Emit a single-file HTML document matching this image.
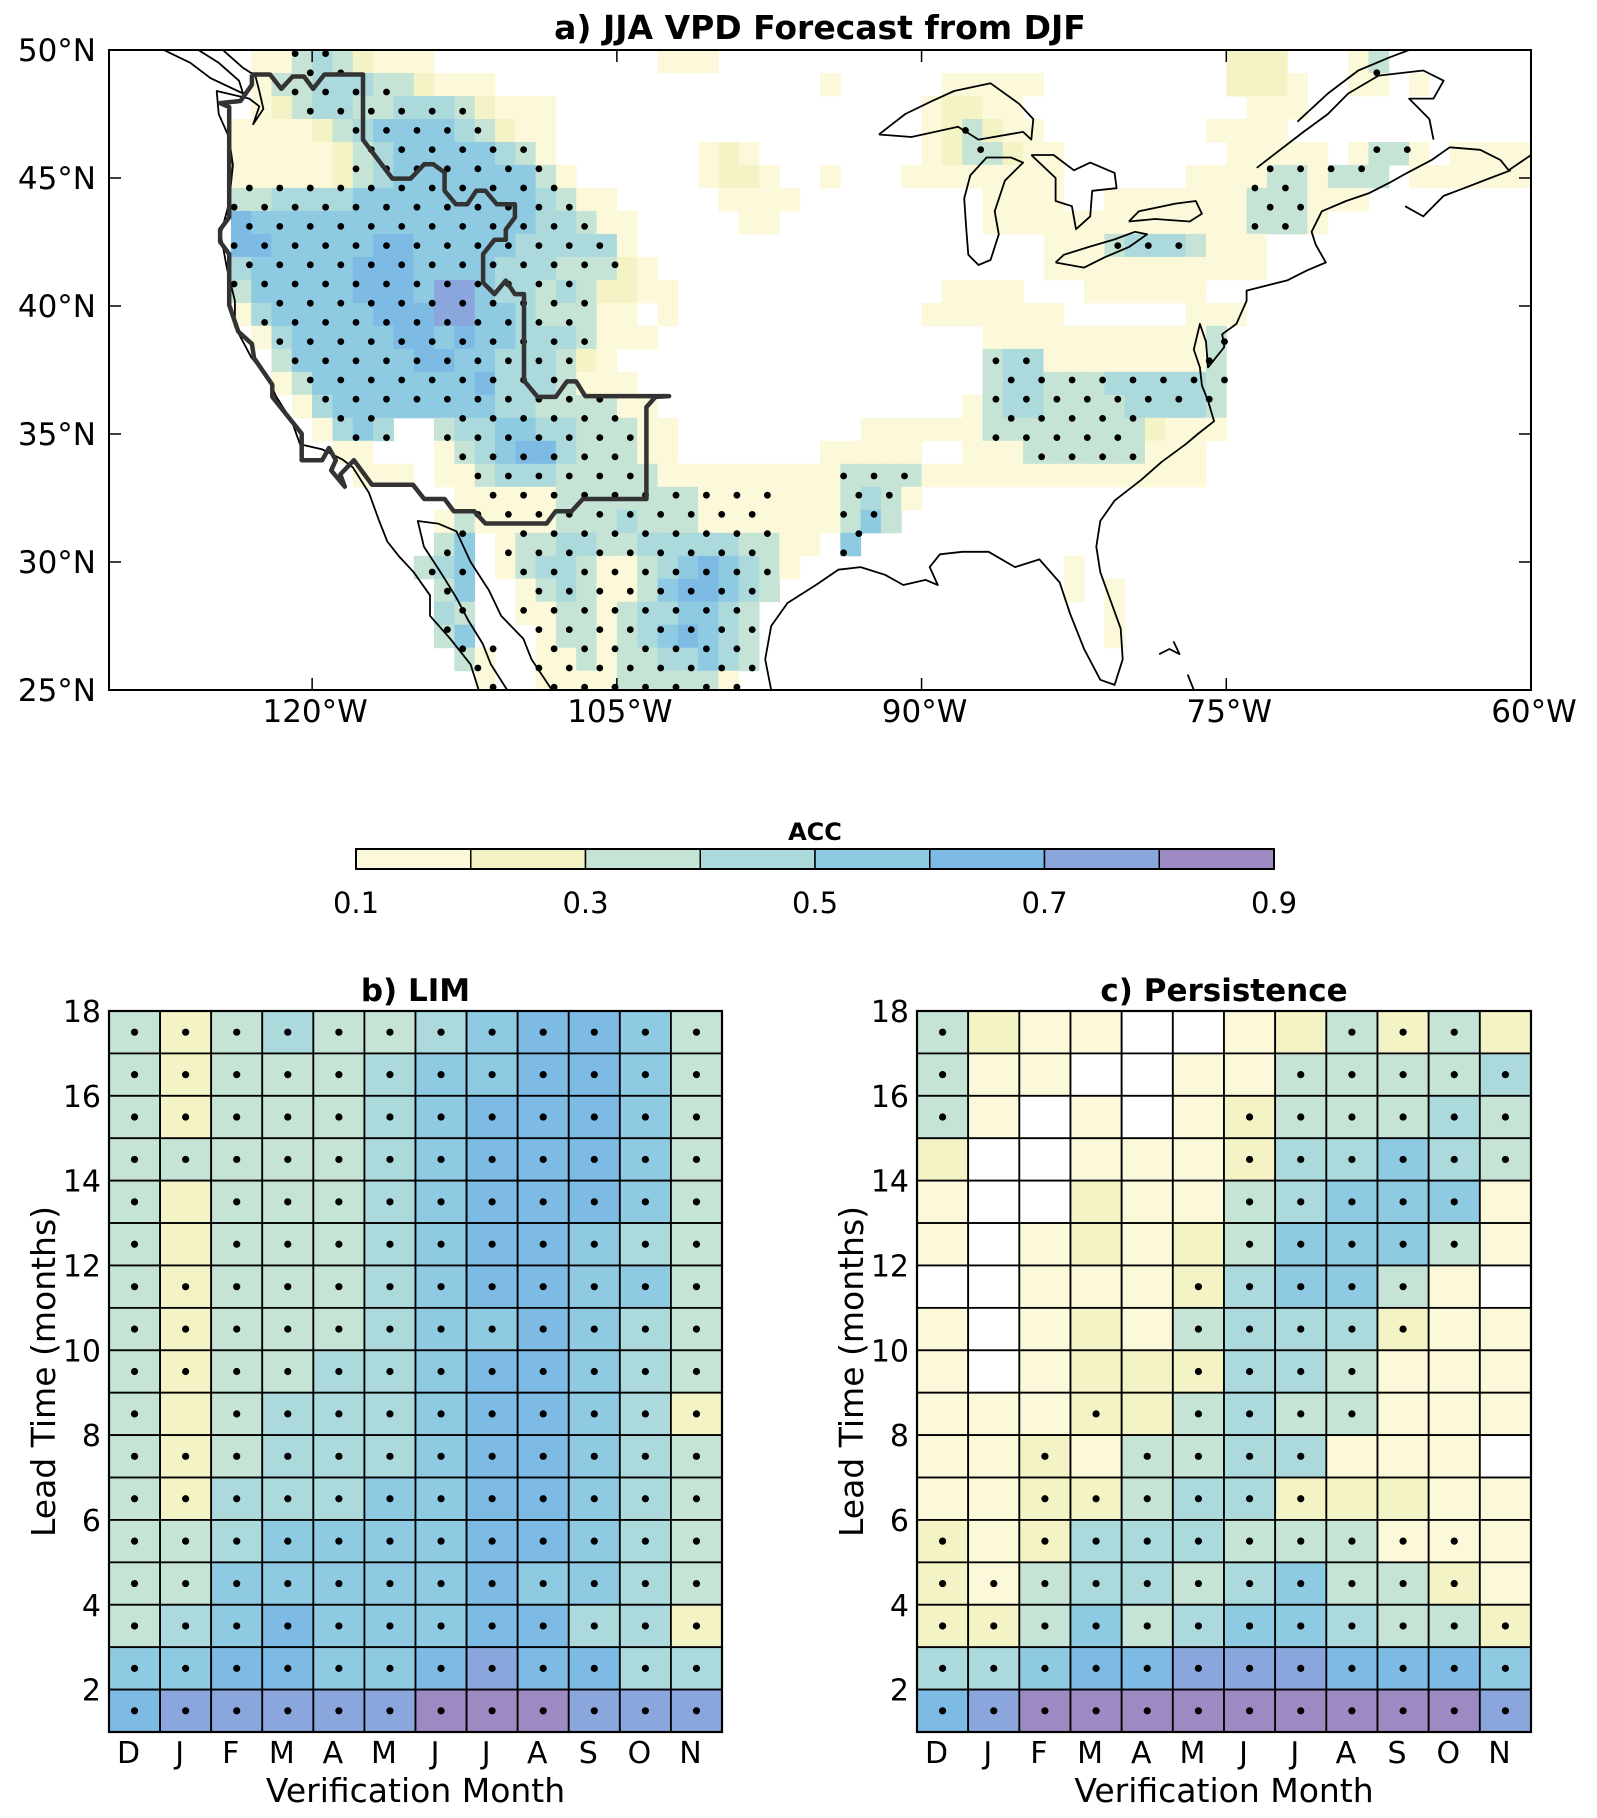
<!DOCTYPE html>
<html><head><meta charset="utf-8"><style>
body{margin:0;background:#fff}
svg{display:block;font-family:"DejaVu Sans","Liberation Sans",sans-serif}
</style></head><body>
<svg id="fig" width="1597" height="1818" viewBox="0 0 1597 1818" xmlns="http://www.w3.org/2000/svg">
<rect x="0" y="0" width="1597" height="1818" fill="#fff"/>
<g id="mapg"></g>
<g id="cbar"></g>
<g id="hb"></g>
<g id="hc"></g>
</svg>
<script>
// ===== Data =====
const binEdges = [0.1,0.2,0.3,0.4,0.5,0.6,0.7,0.8,0.9];
const binColors = ["#fcf9da","#f4f3c5","#c5e4d5","#abd9dc","#8ecbe3","#7dbbe5","#8aa6dc","#9d8ac2"];
const cbarTicks = [0.1,0.3,0.5,0.7,0.9];
const months = ["D","J","F","M","A","M","J","J","A","S","O","N"];
const leadTicks = [2,4,6,8,10,12,14,16,18];
// rows: lead 17 (top) ... lead 1 (bottom)
const leads = [17,16,15,14,13,12,11,10,9,8,7,6,5,4,3,2,1];
const limAcc = [
[.35,.25,.35,.45,.35,.35,.45,.55,.65,.65,.55,.35],
[.35,.25,.35,.35,.35,.45,.55,.55,.65,.65,.55,.35],
[.35,.25,.35,.35,.35,.45,.55,.65,.65,.65,.55,.35],
[.35,.35,.35,.35,.35,.45,.55,.65,.65,.65,.55,.35],
[.35,.25,.35,.35,.35,.45,.55,.65,.65,.65,.55,.35],
[.35,.25,.35,.35,.35,.45,.55,.65,.65,.55,.45,.35],
[.35,.25,.35,.35,.35,.45,.55,.65,.65,.55,.55,.35],
[.35,.25,.35,.35,.35,.45,.55,.55,.65,.55,.45,.35],
[.35,.25,.35,.35,.45,.45,.55,.65,.65,.55,.45,.35],
[.35,.25,.35,.45,.45,.45,.55,.65,.65,.55,.45,.25],
[.35,.25,.35,.45,.45,.45,.55,.65,.65,.55,.45,.35],
[.35,.25,.45,.45,.45,.55,.55,.65,.65,.55,.45,.35],
[.35,.35,.45,.55,.55,.55,.55,.65,.65,.55,.45,.35],
[.35,.35,.55,.55,.55,.55,.55,.65,.55,.55,.45,.35],
[.35,.45,.55,.65,.55,.55,.55,.65,.65,.45,.45,.25],
[.55,.55,.65,.65,.55,.55,.65,.75,.65,.65,.45,.45],
[.65,.75,.75,.75,.75,.75,.85,.85,.85,.75,.75,.75]];
const limSig = [
[1,1,1,1,1,1,1,1,1,1,1,1],[1,1,1,1,1,1,1,1,1,1,1,1],[1,1,1,1,1,1,1,1,1,1,1,1],
[1,1,1,1,1,1,1,1,1,1,1,1],[1,0,1,1,1,1,1,1,1,1,1,1],[1,0,1,1,1,1,1,1,1,1,1,1],
[1,1,1,1,1,1,1,1,1,1,1,1],[1,1,1,1,1,1,1,1,1,1,1,1],[1,1,1,1,1,1,1,1,1,1,1,1],
[1,0,1,1,1,1,1,1,1,1,1,1],[1,1,1,1,1,1,1,1,1,1,1,1],[1,1,1,1,1,1,1,1,1,1,1,1],
[1,1,1,1,1,1,1,1,1,1,1,1],[1,1,1,1,1,1,1,1,1,1,1,1],[1,1,1,1,1,1,1,1,1,1,1,1],
[1,1,1,1,1,1,1,1,1,1,1,1],[1,1,1,1,1,1,1,1,1,1,1,1]];
const perAcc = [
[.35,.25,.15,.15,.05,.05,.15,.25,.35,.25,.35,.25],
[.35,.15,.15,.05,.05,.15,.15,.35,.35,.35,.35,.45],
[.35,.15,.05,.15,.05,.15,.25,.35,.35,.35,.45,.35],
[.25,.05,.05,.15,.15,.15,.25,.45,.45,.55,.45,.35],
[.15,.05,.05,.25,.15,.15,.35,.45,.55,.55,.55,.15],
[.15,.05,.15,.25,.15,.25,.35,.55,.55,.55,.35,.15],
[.05,.05,.15,.15,.15,.25,.45,.55,.55,.35,.15,.05],
[.15,.05,.15,.25,.15,.35,.45,.45,.45,.25,.15,.15],
[.15,.05,.15,.25,.25,.25,.45,.45,.35,.15,.15,.15],
[.15,.15,.15,.25,.25,.35,.45,.35,.35,.15,.15,.15],
[.15,.15,.25,.15,.35,.35,.45,.45,.15,.15,.15,.05],
[.15,.15,.25,.25,.35,.45,.45,.25,.25,.25,.15,.15],
[.25,.15,.25,.45,.45,.45,.35,.35,.35,.15,.15,.15],
[.25,.15,.35,.45,.45,.35,.45,.55,.35,.35,.25,.15],
[.25,.25,.35,.55,.35,.45,.55,.55,.45,.35,.35,.25],
[.45,.45,.55,.65,.65,.75,.75,.75,.65,.65,.65,.55],
[.65,.75,.85,.85,.85,.85,.85,.85,.85,.85,.85,.75]];
const perSig = [
[1,0,0,0,0,0,0,0,1,1,1,0],
[1,0,0,0,0,0,0,1,1,1,1,1],
[1,0,0,0,0,0,1,1,1,1,1,1],
[0,0,0,0,0,0,1,1,1,1,1,1],
[0,0,0,0,0,0,1,1,1,1,1,0],
[0,0,0,0,0,0,1,1,1,1,1,0],
[0,0,0,0,0,1,1,1,1,1,0,0],
[0,0,0,0,0,1,1,1,1,1,0,0],
[0,0,0,0,0,1,1,1,1,0,0,0],
[0,0,0,1,0,1,1,1,1,0,0,0],
[0,0,1,0,1,1,1,1,0,0,0,0],
[0,0,1,1,1,1,1,1,0,0,0,0],
[1,0,1,1,1,1,1,1,1,1,1,0],
[1,1,1,1,1,1,1,1,1,1,1,0],
[1,1,1,1,1,1,1,1,1,1,1,1],
[1,1,1,1,1,1,1,1,1,1,1,1],
[1,1,1,1,1,1,1,1,1,1,1,1]];
// Map ACC bins (0 = <0.1, k = [0.1k,0.1k+0.1)); columns lon -130..-61, rows from lat 50 downward
const mapRows = [
".......113432111...........111.........................222...13.......",
".......133444332111................1.....11111.........2221..11.1.....",
".......123443344432111..................12211...........111...........",
"......1111234555543211..................123211........1111............",
"......1111123455555431.......121........1233211........11111.1331.111111".slice(0,70),
"......11111234555555531......1221..1...11111111......1111331333.111111",
"......3344445555555554311.....1111.........1111..1111111333111........",
"......65555555555555544311.....11..........1111111111111333 1..........".replace(" ",""),
"......66555556655555444441....................11134443111.............",
"......455555666555544433321...................11111111111.............",
"......3555556665775443432211.............1111...111111................",
"......1455555666775543331 1.1............1111111......111..............".replace(" ",""),
".......14555556656554443111................11111111111 3...............".replace(" ",""),
"........35555556655444321..................3441111111 13...............".replace(" ",""),
"........135555555564443111.................344333444443...............",
".........145555555544333311...............1344333344443...............",
"..........1454..344554433311.........111111333333332111...............",
"...........11...134566433311.......11111..111333333111................",
"............111.11344433333111111111333311111111111111..................".slice(0,70),
".................1111133333331111111343 1..............................".replace(" ",""),
"................13111133343331111111353...............................",
"................35.1334433444443311.5................................",
"...............345.134431134565431.............1......................",
"................35..1343113566543..............1.1....................",
"................43..113313445543.................1....................",
"................35...13313456543.................1....................",
".................31..11313344543......................................",
"..................1..1111333331......................................."];
const latTicks = [50,45,40,35,30,25];
const lonTicks = [-120,-105,-90,-75,-60];

// ===== helpers =====
const NS="http://www.w3.org/2000/svg";
function mk(tag, attrs, parent){const e=document.createElementNS(NS,tag);for(const k in attrs)e.setAttribute(k,attrs[k]);parent.appendChild(e);return e;}
function colorFor(v){if(v<binEdges[0])return null;for(let i=0;i<binColors.length;i++){if(v<binEdges[i+1])return binColors[i];}return binColors[binColors.length-1];}

// ===== Map =====
const MX0=109,MX1=1531,MY0=50,MY1=690;
const lonX = lon => MX0 + (lon+130)/70*(MX1-MX0);
const latY = lat => MY0 + (50-lat)/25*(MY1-MY0);
const cellDLat = 0.898;
const mg=document.getElementById('mapg');
const defs=mk('defs',{},mg);
const cp=mk('clipPath',{id:'mclip'},defs);
mk('rect',{x:MX0,y:MY0,width:MX1-MX0,height:MY1-MY0},cp);
const inner=mk('g',{'clip-path':'url(#mclip)'},mg);
mapRows.forEach((row,r)=>{
  for(let i=0;i<70;i++){
    const ch=row[i]; if(!ch||ch==='.')continue;
    const k=+ch; if(!k)continue;
    const lon=-130+i, lat=50-r*cellDLat;
    const x=lonX(lon), y=latY(lat);
    const c=mk('rect',{x:x.toFixed(1),y:y.toFixed(1),width:(lonX(lon+1)-x+0.5).toFixed(1),height:(latY(lat-cellDLat)-y+0.5).toFixed(1),fill:binColors[k-1]},inner);
    
    
  }
});
function mapLevel(lon,lat){const r=Math.floor((50-lat)/cellDLat), i=Math.floor(lon+130);if(r<0||r>=mapRows.length||i<0||i>=70)return 0;const ch=mapRows[r][i];return (ch&&ch!=='.')?+ch:0;}
// significance dots on staggered model grid
for(let k=-2;k<34;k++){
  const lat=48.36-0.75*k; if(lat<25||lat>50)continue;
  const off=(k%2!==0)?-0.75:0;
  for(let n=-8;n<40;n++){
    const lon=-120.84+off+1.5*n; if(lon<-130||lon>-60)continue;
    const lv=mapLevel(lon,lat);
    if(lv>=3 || (lv>=1 && lat<33 && lon>-112 && lon<-97)){
      const d=mk('circle',{cx:lonX(lon).toFixed(1),cy:latY(lat).toFixed(1),r:3.4,fill:'#000'},inner);
      
      
    }
  }
}
// coastlines (lon,lat)
const coasts=[
[[-127.3,50],[-126,49.5],[-125,48.9],[-123.4,48.3],[-123.6,48.8],[-124.6,49.5],[-125.6,50]],
[[-124.4,50],[-123.4,49.3],[-122.8,49],[-122.6,48.4],[-122.4,47.7],[-122.9,47.1],[-122.6,47.8],[-123.1,48.1],[-124.7,48.4],[-124.6,47.5],[-124.1,46.6],[-123.9,45.5],[-124.1,44],[-124.5,42.8],[-124.2,41.5],[-123.8,40.2],[-123.8,39.2],[-123,38],[-122.5,37.5],[-122,36.9],[-121.8,36.5],[-121,35.5],[-120.6,34.6],[-119.5,34.4],[-118.5,34],[-118,33.7],[-117.2,32.7],[-116.7,31.6],[-116.3,30.8],[-115.7,30.2],[-115,29.6],[-114.2,28.7],[-114.2,27.9],[-113.2,27],[-112.2,26],[-111.8,25]],
[[-110.4,25],[-111.2,26],[-111.6,26.8],[-112.3,27.7],[-112.9,28.6],[-113.6,29.5],[-114.5,30.6],[-114.8,31.6],[-113.8,31.5],[-112.9,31.2],[-112.2,30],[-111.3,28.9],[-110.7,27.9],[-109.6,27],[-109.2,26.2],[-108.7,25.6],[-108.2,25]],
[[-97.4,25],[-97.7,26.2],[-97.4,27.5],[-96.6,28.4],[-95.2,29.1],[-94.1,29.7],[-93,29.8],[-91.8,29.5],[-90.9,29.1],[-89.8,29.3],[-89.2,29.1],[-89.6,29.8],[-89.1,30.3],[-88,30.4],[-86.7,30.4],[-85.4,29.8],[-84.2,30.1],[-83.2,29.2],[-82.7,28],[-82,26.6],[-81.2,25.4],[-80.5,25.2],[-80.1,26.2],[-80.2,27.4],[-80.7,28.5],[-81.2,29.6],[-81.4,30.6],[-81.2,31.6],[-80.5,32.4],[-79.2,33.2],[-78.2,33.9],[-77,34.6],[-76.4,35],[-75.6,35.5],[-75.9,36.3],[-76.2,36.9],[-76.3,37.6],[-76.6,38.3],[-76.3,39.3],[-76,38.6],[-75.9,37.6],[-75.6,37.9],[-75.1,38.4],[-75.2,38.9],[-74.5,39.3],[-74,40.2],[-74,40.6],[-73,40.8],[-72,41],[-71,41.4],[-70.1,41.7],[-70.6,42.4],[-70.8,42.9],[-70.3,43.7],[-69.1,44.1],[-68,44.4],[-67,44.8],[-66.1,45.2],[-64.9,45.7],[-64,46.2],[-62.5,46.1],[-61.5,45.7],[-61.1,45.3],[-60,45.9]],
[[-66.2,43.9],[-65.3,43.5],[-64.3,44.3],[-63.3,44.6],[-62,45],[-61,45.3]],
[[-73.5,45.4],[-71.2,46.8],[-70,47.5],[-69,48.3],[-67.5,49],[-65.3,49.2],[-64.3,48.8],[-64.8,48.1],[-66,48.1],[-65,47.3],[-64.8,46.5]],
[[-71.5,47.2],[-70,48.3],[-68.5,49.2],[-67,49.7],[-66,50]],
[[-92.1,46.7],[-90.5,46.6],[-88.2,47],[-87.2,46.5],[-85,46.8],[-84.6,46.5],[-84.5,47.3],[-85.2,47.9],[-86.6,48.7],[-88.4,48.4],[-89.5,48],[-90.8,47.5],[-92.1,46.7]],
[[-85.6,45.8],[-86.8,45.8],[-87.6,45.1],[-87.9,44.2],[-87.8,43],[-87.7,42],[-87.2,41.6],[-86.6,41.8],[-86.2,42.8],[-86.4,43.7],[-85.9,44.9],[-85,45.6],[-85.6,45.8]],
[[-84.6,45.9],[-83.5,45.9],[-82.5,45.3],[-81.7,45.6],[-80.5,45.2],[-80.4,44.6],[-81.6,44.5],[-81.7,43.5],[-82.4,43],[-82.6,43.9],[-83.4,44.1],[-83.4,45],[-84.6,45.9]],
[[-83.4,41.7],[-82,41.5],[-81,41.9],[-79.8,42.3],[-78.9,42.8],[-79.5,42.9],[-80.5,42.6],[-81.8,42.3],[-83,42],[-83.4,41.7]],
[[-79.8,43.3],[-78.5,43.4],[-76.8,43.3],[-76.2,43.6],[-76.5,44.1],[-77.5,44],[-79.3,43.7],[-79.8,43.3]],
[[-78.3,26.4],[-77.8,26.6],[-77.3,26.4],[-77.6,26.9]],
[[-76.6,25],[-76.9,25.6]]
];
coasts.forEach(c=>{
  const p=mk('polyline',{points:c.map(q=>lonX(q[0]).toFixed(1)+','+latY(q[1]).toFixed(1)).join(' '),fill:'none',stroke:'#000','stroke-width':1.8,'stroke-linejoin':'round'},inner);
  
  
});
// region outline (zoom-space points of the screenshot overlay)
const outlineZ=[[315,60],[355,60],[380,95],[405,65],[430,65],[450,95],[475,60],[560,60],[560,220],[625,315],[665,315],[695,280],[715,280],[740,300],[740,345],[765,378],[790,378],[810,345],[830,345],[855,378],[895,378],[895,410],[875,440],[875,465],[850,465],[825,500],[825,570],[850,598],[875,565],[895,598],[915,598],[915,810],[945,850],[985,850],[1010,812],[1030,812],[1050,848],[1235,848],[1205,850],[1185,875],[1185,1100],[1045,1100],[1020,1130],[985,1130],[965,1160],[830,1160],[805,1130],[760,1130],[740,1100],[695,1100],[670,1065],[580,1065],[540,1005],[510,1040],[520,1070],[490,1030],[500,1005],[485,975],[470,1005],[425,1005],[425,940],[360,850],[360,820],[320,755],[315,720],[285,690],[265,625],[265,500],[245,470],[245,440],[265,410],[265,140],[245,130],[290,125],[315,85],[315,60]];
const ol=mk('polyline',{points:outlineZ.map(q=>(109+q[0]/2.205).toFixed(1)+','+(50+q[1]/2.45).toFixed(1)).join(' '),fill:'none',stroke:'#333','stroke-width':4.5,'stroke-linejoin':'round'},inner);


const mf=mk('rect',{x:MX0,y:MY0,width:MX1-MX0,height:MY1-MY0,fill:'none',stroke:'#000','stroke-width':2},mg);


latTicks.forEach(t=>{
  const y=latY(t);
  mk('line',{x1:MX0,y1:y,x2:MX0+12,y2:y,stroke:'#000','stroke-width':1.5},mg);
  mk('line',{x1:MX1,y1:y,x2:MX1-12,y2:y,stroke:'#000','stroke-width':1.5},mg);
  const tx=mk('text',{x:96,y:y+11,'text-anchor':'end','font-size':31},mg);
  tx.textContent=t+'°N';
  
  
});
lonTicks.forEach(t=>{
  const x=lonX(t);
  mk('line',{x1:x,y1:MY0,x2:x,y2:MY0+12,stroke:'#000','stroke-width':1.5},mg);
  mk('line',{x1:x,y1:MY1,x2:x,y2:MY1-12,stroke:'#000','stroke-width':1.5},mg);
  const tx=mk('text',{x:x+3,y:722,'text-anchor':'middle','font-size':31},mg);
  tx.textContent=(-t)+'°W';
  
  
});
const mt=mk('text',{x:820,y:39,'text-anchor':'middle','font-size':33,'font-weight':'bold'},mg);
mt.textContent='a) JJA VPD Forecast from DJF';



// ===== Colorbar =====
const cb=document.getElementById('cbar');
const CX0=356,CX1=1274,CY0=849,CY1=869;
const cbX=v=>CX0+(v-binEdges[0])/(binEdges[binEdges.length-1]-binEdges[0])*(CX1-CX0);
binColors.forEach((c,i)=>{
  const r=mk('rect',{x:cbX(binEdges[i]),y:CY0,width:cbX(binEdges[i+1])-cbX(binEdges[i]),height:CY1-CY0,fill:c,stroke:'#000','stroke-width':1.5},cb);
  
  
});
mk('rect',{x:CX0,y:CY0,width:CX1-CX0,height:CY1-CY0,fill:'none',stroke:'#000','stroke-width':2},cb);
cbarTicks.forEach(t=>{
  const tx=mk('text',{x:cbX(t),y:913,'text-anchor':'middle','font-size':29},cb);
  tx.textContent=t.toFixed(1);
  
  
});
const ct=mk('text',{x:(CX0+CX1)/2,y:840,'text-anchor':'middle','font-size':24,'font-weight':'bold'},cb);
ct.textContent='ACC';



// ===== Heatmaps =====
function heat(gid,X0,X1,acc,sig,title,ylx,labX){
  const g=document.getElementById(gid);
  const Y0=1011,Y1=1732;
  const xs=j=>X0+j*(X1-X0)/12;
  const ys=v=>Y1-(v-1)/17*(Y1-Y0);
  leads.forEach((ld,r)=>{
    months.forEach((m,j)=>{
      const c=colorFor(acc[r][j]);
      const rc=mk('rect',{x:xs(j),y:ys(ld+1),width:xs(j+1)-xs(j),height:ys(ld)-ys(ld+1),fill:c||'#fff',stroke:'#000','stroke-width':1.8},g);
      
      
      if(sig[r][j]){
        const d=mk('circle',{cx:(xs(j)+xs(j+1))/2,cy:(ys(ld)+ys(ld+1))/2,r:3.6,fill:'#000'},g);
        
        
      }
    });
  });
  mk('rect',{x:X0,y:Y0,width:X1-X0,height:Y1-Y0,fill:'none',stroke:'#000','stroke-width':2.2},g);
  leadTicks.forEach(t=>{
    const tx=mk('text',{x:labX,y:ys(t)+11,'text-anchor':'end','font-size':30},g);
    tx.textContent=t;
    
    
  });
  months.forEach((m,j)=>{
    const tx=mk('text',{x:(xs(j)+xs(j+1))/2-6,y:1763,'text-anchor':'middle','font-size':30},g);
    tx.textContent=m;
    
    
  });
  const xt=mk('text',{x:(X0+X1)/2,y:1802,'text-anchor':'middle','font-size':33},g);
  xt.textContent='Verification Month';
  
  
  const yt=mk('text',{x:0,y:0,'text-anchor':'middle','font-size':33,transform:`translate(${ylx},${(Y0+Y1)/2}) rotate(-90)`},g);
  yt.textContent='Lead Time (months)';
  
  
  const tt=mk('text',{x:(X0+X1)/2,y:1001,'text-anchor':'middle','font-size':31,'font-weight':'bold'},g);
  tt.textContent=title;
  
  
}
heat('hb',109,722,limAcc,limSig,'b) LIM',55,101);
heat('hc',917,1531,perAcc,perSig,'c) Persistence',863,909);
</script>
</body></html>
